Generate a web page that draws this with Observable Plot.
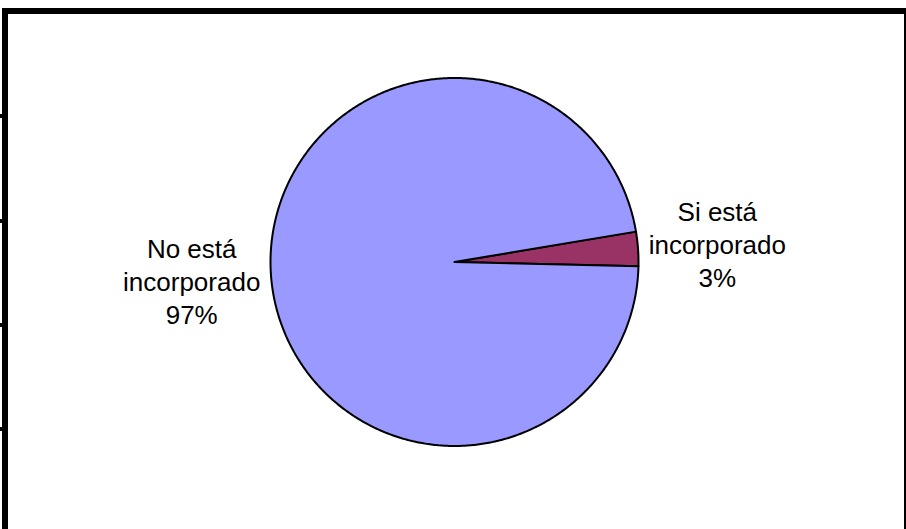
<!DOCTYPE html>
<html>
<head>
<meta charset="utf-8">
<script src="https://cdn.jsdelivr.net/npm/d3@7"></script>
<script src="https://cdn.jsdelivr.net/npm/@observablehq/plot@0.6"></script>
<style>
  html, body { margin: 0; padding: 0; background: #fff; overflow: hidden; }
  #wrap { position: relative; width: 906px; height: 529px; }
  #chart { position: absolute; left: 0; top: 0; }
  #border { position: absolute; left: 2px; top: 8px; width: 896px; height: 540px;
            border: 6px solid #000; box-sizing: content-box; pointer-events: none; }
  .tick { position: absolute; left: 0; width: 3px; height: 4px; background: #000; }
</style>
</head>
<body>
<div id="wrap">
  <div id="chart"></div>
  <div id="border"></div>
  <div class="tick" style="top:114px"></div>
  <div class="tick" style="top:219px"></div>
  <div class="tick" style="top:323px"></div>
  <div class="tick" style="top:427px"></div>
</div>
<script>
// ---- data ----
const categories = ["Si está incorporado", "No está incorporado"];
const values = [3, 97];
const labelNames = [["Si está", "incorporado"], ["No está", "incorporado"]];
const colors = ["#993366", "#9999FF"];
const firstSliceAngleDeg = 80.5;

// ---- build pie geometry from data ----
const total = d3.sum(values);
const a0 = firstSliceAngleDeg * Math.PI / 180;
const arcs = d3.pie().sort(null).startAngle(a0).endAngle(a0 + 2 * Math.PI)(values);

const polys = [];
arcs.forEach((arc, i) => {
  const pts = [{slice: categories[i], x: 0, y: 0}];
  const n = Math.max(8, Math.ceil((arc.endAngle - arc.startAngle) / (Math.PI / 360)));
  for (let k = 0; k <= n; k++) {
    const a = arc.startAngle + (arc.endAngle - arc.startAngle) * k / n;
    pts.push({slice: categories[i], x: Math.sin(a), y: Math.cos(a)});
  }
  pts.push({slice: categories[i], x: 0, y: 0});
  polys.push(pts);
});

const labels = arcs.map((arc, i) => {
  const mid = (arc.startAngle + arc.endAngle) / 2;
  const pct = Math.round(values[i] / total * 100) + "%";
  return {
    text: [...labelNames[i], pct].join("\n"),
    x: 1.432 * Math.sin(mid),
    y: 1.432 * Math.cos(mid)
  };
});

const marks = polys.map((pts, i) =>
  Plot.line(pts, {x: "x", y: "y", fill: colors[i], stroke: "#000", strokeWidth: 2, strokeLinejoin: "round"})
);
marks.push(Plot.text(labels, {
  x: "x", y: "y", text: "text",
  fontSize: 26, lineHeight: 1.27, textAnchor: "middle", lineAnchor: "middle",
  fill: "#000"
}));

const chart = Plot.plot({
  width: 906,
  height: 529,
  margin: 0,
  x: {domain: [-1, 1], range: [270, 638], axis: null},
  y: {domain: [-1, 1], range: [445.5, 77.5], axis: null},
  style: {fontFamily: "'Liberation Sans', Arial, sans-serif", background: "transparent"},
  marks
});
document.getElementById("chart").appendChild(chart);
</script>
</body>
</html>
